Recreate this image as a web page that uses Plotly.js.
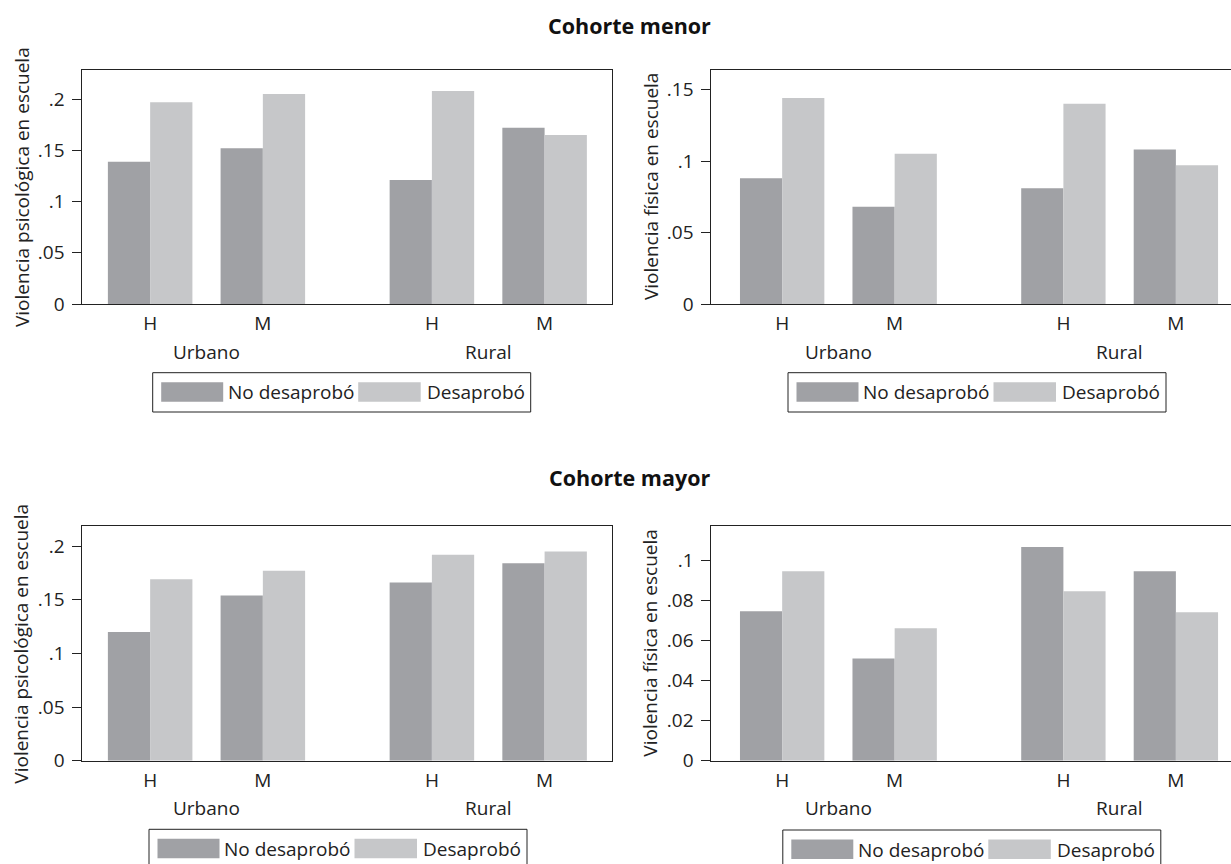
<!DOCTYPE html>
<html>
<head>
<meta charset="utf-8">
<script src="https://cdn.plot.ly/plotly-3.0.1.min.js"></script>
<style>html,body{margin:0;padding:0;overflow:hidden;background:#fff;}</style>
</head>
<body>
<div id="chart" style="width:1231px;height:864px;"></div>
<script>
// ---- data ----
const area = ['Urbano', 'Urbano', 'Rural', 'Rural'];
const sexo = ['H', 'M', 'H', 'M'];
const seriesNames = ['No desaprobó', 'Desaprobó'];
const panelTitles = ['Cohorte menor', 'Cohorte mayor'];
const yTitlePsic = 'Violencia psicológica en escuela';
const yTitleFis = 'Violencia física en escuela';

const psicMenorNo  = [0.139, 0.152, 0.121, 0.172];
const psicMenorDes = [0.197, 0.205, 0.208, 0.165];
const fisMenorNo   = [0.088, 0.068, 0.081, 0.108];
const fisMenorDes  = [0.144, 0.105, 0.140, 0.097];
const psicMayorNo  = [0.120, 0.154, 0.166, 0.184];
const psicMayorDes = [0.169, 0.177, 0.192, 0.195];
const fisMayorNo   = [0.0745, 0.051, 0.1065, 0.0945];
const fisMayorDes  = [0.0945, 0.066, 0.0845, 0.074];

const yTickValsPsic = [0, 0.05, 0.1, 0.15, 0.2];
const yTickTextPsic = ['0', '.05', '.1', '.15', '.2'];
const yTickValsFisMenor = [0, 0.05, 0.1, 0.15];
const yTickTextFisMenor = ['0', '.05', '.1', '.15'];
const yTickValsFisMayor = [0, 0.02, 0.04, 0.06, 0.08, 0.1];
const yTickTextFisMayor = ['0', '.02', '.04', '.06', '.08', '.1'];

// ---- styling ----
const W = 1231, H = 864;
const FONT = 'Open Sans, Noto Sans, sans-serif';
const FS = 19;
const colDark = '#a0a1a5', colLight = '#c6c7c9';
const px = v => v / W;
const py = v => 1 - v / H;

// category positions (group gap of half a slot between areas)
const areaOrder = [...new Set(area)];
const xpos = area.map((a, i) => {
  const ai = areaOrder.indexOf(a);
  const within = area.slice(0, i).filter(z => z === a).length;
  return within + ai * 2.5;
});
const areaCenters = areaOrder.map(a => {
  const p = xpos.filter((_, i) => area[i] === a);
  return p.reduce((s, v) => s + v, 0) / p.length;
});

const panels = [
  {ax: '', no: psicMenorNo, des: psicMenorDes, tv: yTickValsPsic, tt: yTickTextPsic, yr: [0, 0.229], title: yTitlePsic,
   xd: [px(82.3), px(612)], yd: [py(304), py(69.5)], xr: [-0.602, 4.098], right: true, top: 69.5, bot: 304},
  {ax: '2', no: fisMenorNo, des: fisMenorDes, tv: yTickValsFisMenor, tt: yTickTextFisMenor, yr: [0, 0.164], title: yTitleFis,
   xd: [px(711.3), 1], yd: [py(304), py(69.5)], xr: [-0.63, 3.99], right: false, top: 69.5, bot: 304},
  {ax: '3', no: psicMayorNo, des: psicMayorDes, tv: yTickValsPsic, tt: yTickTextPsic, yr: [0, 0.2187], title: yTitlePsic,
   xd: [px(82.3), px(612)], yd: [py(760.7), py(526)], xr: [-0.602, 4.098], right: true, top: 526, bot: 760.7},
  {ax: '4', no: fisMayorNo, des: fisMayorDes, tv: yTickValsFisMayor, tt: yTickTextFisMayor, yr: [0, 0.117], title: yTitleFis,
   xd: [px(711.3), 1], yd: [py(760.7), py(526)], xr: [-0.63, 3.99], right: false, top: 526, bot: 760.7}
];

const data = [];
const layout = {
  width: W, height: H,
  margin: {l: 0, r: 0, t: 0, b: 0},
  paper_bgcolor: '#fff', plot_bgcolor: '#fff',
  showlegend: false,
  barmode: 'group', bargap: 0.25, bargroupgap: 0,
  font: {family: FONT, size: FS, color: '#222'},
  shapes: [], annotations: []
};

panels.forEach((p, k) => {
  const xa = 'x' + p.ax, ya = 'y' + p.ax;
  data.push({type: 'bar', x: xpos, y: p.no, name: seriesNames[0], xaxis: xa, yaxis: ya,
             marker: {color: colDark, line: {width: 0}}, hoverinfo: 'y'});
  data.push({type: 'bar', x: xpos, y: p.des, name: seriesNames[1], xaxis: xa, yaxis: ya,
             marker: {color: colLight, line: {width: 0}}, hoverinfo: 'y'});
  layout['xaxis' + p.ax] = {
    domain: p.xd, range: p.xr, anchor: ya, tickmode: 'array', tickvals: xpos, ticktext: sexo,
    showgrid: false, zeroline: false, showline: true, mirror: true, linecolor: '#222', linewidth: 1,
    ticks: '', ticklabelstandoff: 2, tickfont: {family: FONT, size: FS, color: '#222'}, fixedrange: true
  };
  layout['yaxis' + p.ax] = {
    domain: p.yd, range: p.yr, anchor: xa, tickmode: 'array', tickvals: p.tv, ticktext: p.tt,
    showgrid: false, zeroline: false, showline: true, mirror: p.right, linecolor: '#222', linewidth: 1,
    ticks: 'outside', ticklen: 9, tickcolor: '#222', ticklabelstandoff: 4,
    tickfont: {family: FONT, size: FS, color: '#222'}, fixedrange: true
  };
  // y-axis title
  const xl = p.xd[0] * W;
  layout.annotations.push({xref: 'paper', yref: 'paper', x: px(xl - 61), y: (p.yd[0] + p.yd[1]) / 2,
    text: p.title, textangle: -90, showarrow: false, xanchor: 'center', yanchor: 'middle',
    font: {family: FONT, size: FS, color: '#222'}});
  // area labels
  areaOrder.forEach((a, i) => {
    layout.annotations.push({xref: xa, yref: 'paper', x: areaCenters[i], y: py(p.bot + 47.5),
      text: a, showarrow: false, xanchor: 'center', yanchor: 'middle',
      font: {family: FONT, size: FS, color: '#222'}});
  });
});

// legends (drawn boxes like the original)
function addLegend(lx, ly) {
  layout.shapes.push({type: 'rect', xref: 'paper', yref: 'paper', x0: px(lx), x1: px(lx + 378),
    y0: py(ly), y1: py(ly + 39.3), line: {color: '#222', width: 1}, fillcolor: 'rgba(0,0,0,0)'});
  layout.shapes.push({type: 'rect', xref: 'paper', yref: 'paper', x0: px(lx + 8.5), x1: px(lx + 70.5),
    y0: py(ly + 9.5), y1: py(ly + 29), line: {width: 0}, fillcolor: colDark});
  layout.shapes.push({type: 'rect', xref: 'paper', yref: 'paper', x0: px(lx + 205.5), x1: px(lx + 268),
    y0: py(ly + 9.5), y1: py(ly + 29), line: {width: 0}, fillcolor: colLight});
  layout.annotations.push({xref: 'paper', yref: 'paper', x: px(lx + 73), y: py(ly + 19.5), text: seriesNames[0],
    showarrow: false, xanchor: 'left', yanchor: 'middle', font: {family: FONT, size: FS, color: '#222'}});
  layout.annotations.push({xref: 'paper', yref: 'paper', x: px(lx + 272), y: py(ly + 19.5), text: seriesNames[1],
    showarrow: false, xanchor: 'left', yanchor: 'middle', font: {family: FONT, size: FS, color: '#222'}});
}
addLegend(152.7, 372.7);
addLegend(788, 372.7);
addLegend(149, 829.3);
addLegend(782.8, 830);

// section titles
layout.annotations.push({xref: 'paper', yref: 'paper', x: px(629), y: py(25), text: '<b>' + panelTitles[0] + '</b>',
  showarrow: false, xanchor: 'center', yanchor: 'middle', font: {family: FONT, size: 21.5, color: '#111'}});
layout.annotations.push({xref: 'paper', yref: 'paper', x: px(629), y: py(478), text: '<b>' + panelTitles[1] + '</b>',
  showarrow: false, xanchor: 'center', yanchor: 'middle', font: {family: FONT, size: 21.5, color: '#111'}});

Plotly.newPlot('chart', data, layout, {displayModeBar: false, staticPlot: true});
</script>
</body>
</html>
